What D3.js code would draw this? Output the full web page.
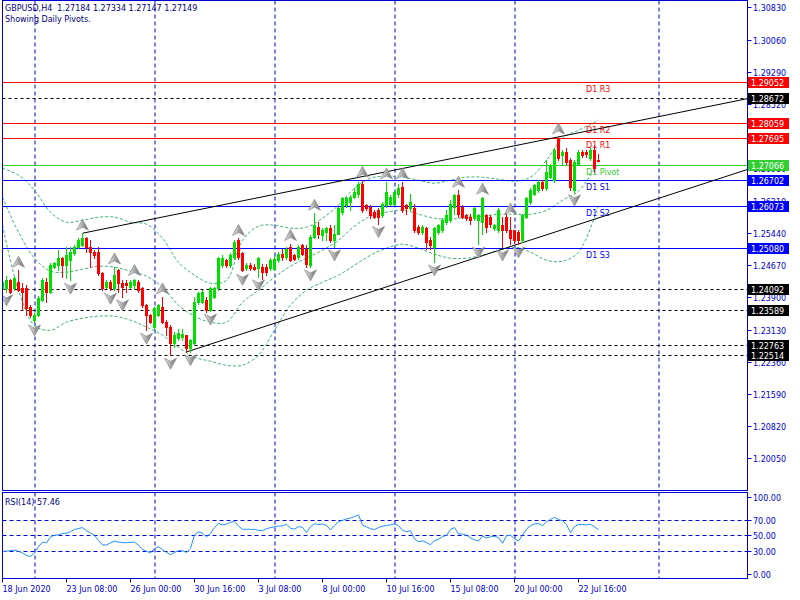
<!DOCTYPE html>
<html><head><meta charset="utf-8">
<script src="https://cdn.jsdelivr.net/npm/d3@7"></script>
<style>body{margin:0;background:#fff}svg{display:block}text{font-family:"DejaVu Sans",sans-serif;font-size:8px}</style>
</head><body><svg id="c" width="800" height="600"></svg>
<script>
// ---------------- DATA ----------------
const open=[1.24110,1.24117,1.24308,1.24117,1.24267,1.24117,1.24117,1.23670,1.23352,1.23472,
1.23830,1.24267,1.24028,1.24619,1.24667,1.24834,1.24667,1.24786,1.24953,1.25104,
1.25145,1.25312,1.25104,1.24984,1.24984,1.24475,1.24148,1.24267,1.24117,1.24547,
1.24236,1.24236,1.24148,1.24189,1.24267,1.24117,1.23711,1.23472,1.23192,1.23472,
1.23670,1.23311,1.23192,1.22802,1.22922,1.22953,1.22994,1.22683,1.22802,1.23789,
1.23789,1.23830,1.23591,1.23909,1.24117,1.24667,1.24786,1.24667,1.24865,1.25264,
1.24953,1.24595,1.24667,1.24626,1.24595,1.24626,1.24626,1.24595,1.24588,1.24786,
1.24946,1.24865,1.25104,1.24906,1.24865,1.25145,1.25066,1.24667,1.25343,1.25582,
1.25384,1.25462,1.25544,1.25264,1.25424,1.25940,1.26101,1.26179,1.26299,1.26380,
1.26619,1.26101,1.26060,1.25940,1.25981,1.25862,1.26101,1.26141,1.26141,1.26380,
1.26538,1.26101,1.26022,1.26022,1.25582,1.25462,1.25544,1.25264,1.25104,1.25462,
1.25503,1.25701,1.25742,1.26060,1.26340,1.26060,1.25862,1.25821,1.25783,1.25742,
1.25701,1.25862,1.25821,1.25544,1.25503,1.25623,1.25821,1.25503,1.25503,1.25462,
1.25264,1.25821,1.26179,1.26380,1.26459,1.26657,1.26500,1.26777,1.26698,1.27695,
1.27295,1.27374,1.27176,1.26459,1.27097,1.27374,1.27374,1.27217,1.27415,1.27184];
const high=[1.24483,1.24404,1.24332,1.24387,1.24547,1.24236,1.24189,1.23711,1.23519,1.23926,
1.24356,1.24356,1.24714,1.24738,1.25025,1.24865,1.25104,1.25104,1.25145,1.25312,
1.25431,1.25330,1.25264,1.25025,1.25104,1.24506,1.24308,1.24308,1.24626,1.24588,
1.24308,1.24308,1.24308,1.24349,1.24308,1.24148,1.23730,1.23512,1.23670,1.23751,
1.23909,1.23352,1.23233,1.23072,1.23154,1.23154,1.23010,1.22915,1.23909,1.24028,
1.24069,1.23909,1.24148,1.24148,1.24865,1.24906,1.24827,1.24953,1.25264,1.25305,
1.24984,1.24714,1.24714,1.24690,1.24865,1.24707,1.24707,1.24834,1.24882,1.24984,
1.25066,1.25104,1.25185,1.24946,1.25145,1.25185,1.25145,1.25384,1.25909,1.25701,
1.25544,1.25582,1.25623,1.25623,1.26060,1.26299,1.26299,1.26340,1.26500,1.26657,
1.26698,1.26141,1.26101,1.25981,1.26022,1.26179,1.26657,1.26340,1.26459,1.26619,
1.26657,1.26141,1.26380,1.26141,1.25623,1.25623,1.25582,1.25343,1.25582,1.25663,
1.25783,1.25981,1.26220,1.26380,1.26459,1.26101,1.25902,1.25902,1.26060,1.25902,
1.26292,1.25902,1.25862,1.25663,1.26022,1.25821,1.25981,1.25814,1.25520,1.25503,
1.25902,1.26299,1.26500,1.26619,1.26698,1.26698,1.27176,1.27097,1.27456,1.27733,
1.27415,1.27456,1.27217,1.27176,1.27415,1.27415,1.27415,1.27456,1.27535,1.27334];
const low=[1.24028,1.24030,1.23997,1.24069,1.24045,1.23591,1.23472,1.23431,1.23311,1.23448,
1.23806,1.23789,1.23997,1.24595,1.24547,1.24387,1.24356,1.24308,1.24906,1.25073,
1.25130,1.24984,1.24626,1.24834,1.24428,1.24069,1.24117,1.24069,1.24069,1.24028,
1.23909,1.24028,1.24117,1.24110,1.24028,1.23670,1.23113,1.23290,1.23154,1.23450,
1.23290,1.22994,1.22514,1.22714,1.22874,1.22874,1.22594,1.22600,1.22795,1.23751,
1.23758,1.23550,1.23570,1.23878,1.24069,1.24626,1.24626,1.24626,1.24827,1.24827,
1.24520,1.24547,1.24547,1.24547,1.24387,1.24349,1.24428,1.24547,1.24547,1.24745,
1.24786,1.24827,1.24770,1.24786,1.24827,1.24906,1.24626,1.24626,1.25305,1.25305,
1.25264,1.25264,1.25223,1.25104,1.25410,1.25902,1.26060,1.25981,1.26261,1.26299,
1.25940,1.25981,1.25783,1.25783,1.25663,1.25821,1.26060,1.26101,1.26101,1.26299,
1.25940,1.25902,1.25981,1.25462,1.25424,1.25424,1.25066,1.25066,1.24745,1.25424,
1.25462,1.25663,1.25701,1.25902,1.25821,1.25783,1.25742,1.25663,1.25742,1.25168,
1.25424,1.25462,1.25582,1.25503,1.25462,1.25104,1.25462,1.25185,1.25200,1.25175,
1.25223,1.25783,1.26141,1.26340,1.26418,1.26459,1.26459,1.26739,1.26657,1.27176,
1.27097,1.27097,1.26459,1.26418,1.27057,1.27255,1.27255,1.27176,1.26896,1.27147];
const close=[1.24267,1.24308,1.24028,1.24356,1.24069,1.24028,1.23639,1.23472,1.23472,1.23878,
1.24308,1.24028,1.24667,1.24714,1.24834,1.24667,1.24906,1.24977,1.25104,1.25264,
1.25312,1.25104,1.24984,1.24906,1.24475,1.24117,1.24267,1.24117,1.24428,1.24236,
1.24148,1.24189,1.24267,1.24308,1.24069,1.23711,1.23472,1.23311,1.23639,1.23711,
1.23311,1.23192,1.22802,1.22994,1.23041,1.23034,1.22683,1.22874,1.23789,1.23997,
1.24028,1.23591,1.24117,1.24117,1.24834,1.24834,1.24667,1.24906,1.25223,1.24865,
1.24547,1.24667,1.24595,1.24588,1.24834,1.24506,1.24506,1.24786,1.24827,1.24946,
1.24865,1.25066,1.24786,1.24827,1.25104,1.24946,1.24707,1.25343,1.25623,1.25424,
1.25503,1.25544,1.25264,1.25424,1.26022,1.26261,1.26261,1.26299,1.26418,1.26619,
1.25981,1.26022,1.25862,1.25821,1.25821,1.26141,1.26418,1.26299,1.26418,1.26500,
1.25981,1.26022,1.26179,1.25503,1.25462,1.25582,1.25223,1.25145,1.25544,1.25623,
1.25742,1.25862,1.26141,1.26340,1.25902,1.25821,1.25783,1.25742,1.26022,1.25862,
1.26268,1.25582,1.25663,1.25623,1.25981,1.25503,1.25503,1.25305,1.25264,1.25264,
1.25862,1.26261,1.26459,1.26579,1.26657,1.26500,1.26896,1.27057,1.27415,1.27217,
1.27374,1.27135,1.26538,1.27135,1.27374,1.27295,1.27336,1.27415,1.26978,1.27149];
const rsi=[28.5,29.3,30,30.6,29,27,23.5,22.3,27,35,41,40,48,50,50.5,52.5,52.5,54.8,57.5,58.8,
60,56,53,50,43,37.3,37.3,40,42.5,41,40.3,40.3,40.8,41,37,31.5,29,27,32.5,35,
31,27.5,24.5,27.5,29.8,29.8,27.5,32.9,50.5,54.5,52.5,48,52.5,60,65.6,63.5,64.5,67,68,62,
57.8,57.8,57.8,57.6,56.5,55.9,58.7,60,61,62,62.3,64.5,59,58,61.2,60.4,53.5,61.2,65,64,
64.7,63,57,62.5,67.7,69.5,71.3,72.5,74.5,76.5,63.4,61,58.5,57.5,60,62,62.7,63.5,65.3,62.5,
56.5,54.6,55.9,45,41.6,42.7,40.5,37.5,43,44.7,48,50,57.5,60,51.6,51.6,50,46.5,44,42.5,
49,46.5,48,48.6,47,39.5,49.3,50,45.5,42.5,50.3,58,62.5,64.8,65.5,62.5,67.5,70.8,73.4,70.5,
69,64,53.3,61.5,64,64,63.6,64.5,60.8,57.46];
const fractalUp=[4,20,28,33,40,59,72,78,90,96,100,114,120,127,139];
const fractalDown=[1,8,17,27,30,36,42,47,52,60,64,77,83,94,108,119,125,129,143];
const bandBars=[0,4,8,12,16,20,24,28,32,36,40,44,48,52,56,60,64,68,72,76,80,84,88,92,96,100,104,108,112,116,120,124,128,132,136,140,144,149];
const bandUpper=[1.26985,1.26818,1.26459,1.25933,1.25694,1.25742,1.25814,1.25814,1.25694,1.25646,1.25312,1.24738,1.24428,1.24236,1.24308,1.25264,1.25599,1.25623,1.25551,1.25575,1.25790,1.26101,1.26507,1.26746,1.26794,1.26770,1.26698,1.26626,1.26698,1.26770,1.26770,1.26722,1.26674,1.26770,1.27176,1.27702,1.27893,1.28132];
const bandMiddle=[1.26292,1.25455,1.24834,1.24524,1.24500,1.24571,1.24643,1.24619,1.24524,1.24404,1.24141,1.23711,1.23448,1.23304,1.23304,1.23782,1.24069,1.24380,1.24643,1.24834,1.25025,1.25264,1.25599,1.25838,1.25933,1.25981,1.25885,1.25790,1.25766,1.25814,1.25838,1.25885,1.25885,1.25885,1.25981,1.26220,1.26435,1.27128];
const bandLower=[1.25623,1.24069,1.23225,1.23113,1.23304,1.23400,1.23448,1.23448,1.23352,1.23187,1.22994,1.22707,1.22468,1.22372,1.22277,1.22277,1.22516,1.23113,1.23711,1.24069,1.24260,1.24428,1.24667,1.24906,1.25073,1.25168,1.25073,1.24929,1.24834,1.24834,1.24906,1.25025,1.25097,1.24977,1.24786,1.24762,1.24977,1.26101];
const pivotNames=["D1 R3","D1 R2","D1 R1","D1 Pivot","D1 S1","D1 S2","D1 S3"];
const pivotValues=[1.29052,1.28059,1.27695,1.27066,1.26702,1.26073,1.25080];
const pivotKinds=["R","R","R","P","S","S","S"];
const levelValues=[1.28672,1.24092,1.23589,1.22763,1.22514];
const trendUpper=[[20,1.25431],[139,1.27733]];
const trendLower=[[46,1.22594],[129,1.25175]];
const priceTicks=[1.30830,1.30060,1.29290,1.28520,1.27750,1.26980,1.26210,1.25440,1.24670,1.23900,1.23130,1.22360,1.21590,1.20820,1.20050];
const rsiTicks=[100,70,50,30,0];
const rsiLevels=[70,50,30];
const timeTickBars=[0,16,32,48,64,80,96,112,128,144];
const timeTickLabels=["18 Jun 2020","23 Jun 08:00","26 Jun 00:00","30 Jun 16:00","3 Jul 08:00","8 Jul 00:00","10 Jul 16:00","15 Jul 08:00","20 Jul 00:00","22 Jul 16:00"];
const weekBars=[8,38,68,98,128,164];
const headerText="GBPUSD,H4  1.27184 1.27334 1.27147 1.27149";
const subText="Showing Daily Pivots.";
const rsiTitle="RSI(14) 57.46";

// ---------------- DRAWING ----------------
const svg=d3.select("#c");
const AX="#0000d0", NAVY="#000080";
const kindColor={R:"#ff0000",P:"#32cd32",S:"#0000ff"};
const L=2.5,R=747.5,MT=0.5,MB=490.5,RT=492.5,RB=578.5;
const x=d3.scaleLinear().domain([0,1]).range([2.5,6.5]);
const xMaxBar=x.invert(R);
const y=d3.scaleLinear().domain([1.20050,1.30830]).range([458.4,7.3]);
const yr=d3.scaleLinear().domain([0,100]).range([573.5,497]);

const defs=svg.append("defs");
defs.append("clipPath").attr("id","cm").append("rect").attr("x",L).attr("y",MT).attr("width",R-L).attr("height",MB-MT);
defs.append("clipPath").attr("id","cr").append("rect").attr("x",L).attr("y",RT).attr("width",R-L).attr("height",RB-RT);
const gm=svg.append("g").attr("clip-path","url(#cm)");
const gr=svg.append("g").attr("clip-path","url(#cr)");

// vertical grid
weekBars.forEach(b=>{
  const xx=Math.round(x(b));
  [gm,gr].forEach((g,i)=>g.append("line").attr("x1",xx).attr("x2",xx).attr("y1",i?RT:MT).attr("y2",i?RB:MB)
    .attr("stroke",AX).attr("stroke-dasharray","4,3"));
});

// bollinger bands
const bandLine=arr=>d3.line().x((d,i)=>x(bandBars[i])).y(d=>y(d)).curve(d3.curveCatmullRom)(arr);
[bandUpper,bandMiddle,bandLower].forEach(a=>gm.append("path").attr("d",bandLine(a)).attr("fill","none")
  .attr("stroke","#3cb371").attr("stroke-width",1).attr("stroke-dasharray","3,2"));

// level lines (black dashed)
levelValues.forEach(v=>gm.append("line").attr("x1",L).attr("x2",R).attr("y1",Math.round(y(v))+0.5).attr("y2",Math.round(y(v))+0.5)
  .attr("stroke","#000").attr("stroke-dasharray","3,3"));
// pivot lines
pivotValues.forEach((v,i)=>{
  const yy=Math.round(y(v))+0.5;
  gm.append("line").attr("x1",L).attr("x2",R).attr("y1",yy).attr("y2",yy).attr("stroke",kindColor[pivotKinds[i]]);
  gm.append("text").attr("x",586).attr("y",yy+9.5).attr("fill",kindColor[pivotKinds[i]]).text(pivotNames[i]);
});
// trend lines
function ray(t){const s=(t[1][1]-t[0][1])/(t[1][0]-t[0][0]);return [[t[0][0],t[0][1]],[xMaxBar,t[0][1]+s*(xMaxBar-t[0][0])]];}
[trendUpper,trendLower].forEach(t=>{const r=ray(t);gm.append("line").attr("x1",x(r[0][0])).attr("y1",y(r[0][1]))
  .attr("x2",x(r[1][0])).attr("y2",y(r[1][1])).attr("stroke","#000").attr("stroke-width",1);});

// candles
const idx=d3.range(open.length);
const cg=gm.append("g");
idx.forEach(i=>{
  const up=close[i]>=open[i];const col=up?"#00e000":"#ff0000";
  const cx=x(i);
  cg.append("line").attr("x1",cx).attr("x2",cx).attr("y1",Math.round(y(high[i]))).attr("y2",Math.round(y(low[i]))+1).attr("stroke",col);
  const t=Math.round(y(Math.max(open[i],close[i]))),b=Math.round(y(Math.min(open[i],close[i])));
  cg.append("rect").attr("x",cx-1.5).attr("y",t).attr("width",3).attr("height",Math.max(1,b-t+1)).attr("fill",col);
});

// fractals
const grad=defs.append("linearGradient").attr("id","fg").attr("x1",0).attr("x2",1);
grad.append("stop").attr("offset",0).attr("stop-color","#ececec");
grad.append("stop").attr("offset",0.5).attr("stop-color","#a8a8a8");
grad.append("stop").attr("offset",1).attr("stop-color","#6c6c6c");
fractalUp.forEach(i=>gm.append("path").attr("transform",`translate(${x(i)},${y(high[i])-8})`)
  .attr("d","M0,-6L6,5L0,2L-6,5Z").attr("fill","url(#fg)").attr("stroke","#8a8a8a").attr("stroke-width",0.7));
fractalDown.forEach(i=>gm.append("path").attr("transform",`translate(${x(i)},${y(low[i])+8})`)
  .attr("d","M0,6L6,-5L0,-2L-6,-5Z").attr("fill","url(#fg)").attr("stroke","#8a8a8a").attr("stroke-width",0.7));

// RSI
rsiLevels.forEach(v=>gr.append("line").attr("x1",L).attr("x2",R).attr("y1",Math.round(yr(v))+0.5).attr("y2",Math.round(yr(v))+0.5)
  .attr("stroke",AX).attr("stroke-dasharray","4,3"));
gr.append("path").attr("d",d3.line().x((d,i)=>x(i)).y(d=>yr(d))(rsi)).attr("fill","none").attr("stroke","#1e90ff").attr("stroke-width",1);

// frames
svg.append("rect").attr("x",L).attr("y",MT).attr("width",R-L).attr("height",MB-MT).attr("fill","none").attr("stroke",AX);
svg.append("rect").attr("x",L).attr("y",RT).attr("width",R-L).attr("height",RB-RT).attr("fill","none").attr("stroke",AX);

// price axis
const pa=svg.append("g");
priceTicks.forEach(v=>{const yy=Math.round(y(v))+0.5;
  pa.append("line").attr("x1",R).attr("x2",R+4).attr("y1",yy).attr("y2",yy).attr("stroke",AX);
  pa.append("text").attr("x",753).attr("y",yy+3).attr("fill",AX).text(v.toFixed(5));});
rsiTicks.forEach(v=>{const yy=Math.round(yr(v))+0.5;
  pa.append("line").attr("x1",R).attr("x2",R+4).attr("y1",yy).attr("y2",yy).attr("stroke",AX);
  pa.append("text").attr("x",753).attr("y",yy+3).attr("fill",AX).text(v.toFixed(2));});
// price boxes (cover the axis labels they sit on, as in the reference)
function box(v,col){const yy=Math.round(y(v));
  pa.append("rect").attr("x",748).attr("y",yy-5).attr("width",41).attr("height",11).attr("fill",col);
  pa.append("text").attr("x",751).attr("y",yy+3.5).attr("fill","#fff").text(v.toFixed(5));}
levelValues.forEach(v=>box(v,"#000"));
pivotValues.forEach((v,i)=>box(v,kindColor[pivotKinds[i]]));

// time axis
timeTickBars.forEach((b,i)=>{const xx=Math.round(x(b))-0.5;
  svg.append("line").attr("x1",xx).attr("x2",xx).attr("y1",RB).attr("y2",RB+4).attr("stroke",AX);
  svg.append("text").attr("x",xx).attr("y",592).attr("fill",AX).text(timeTickLabels[i]);});

// titles
svg.append("text").attr("x",5).attr("y",11).attr("fill",NAVY).attr("xml:space","preserve").style("white-space","pre").text(headerText);
svg.append("text").attr("x",5).attr("y",22).attr("fill",NAVY).text(subText);
svg.append("text").attr("x",5).attr("y",505).attr("fill",NAVY).text(rsiTitle);
</script></body></html>
